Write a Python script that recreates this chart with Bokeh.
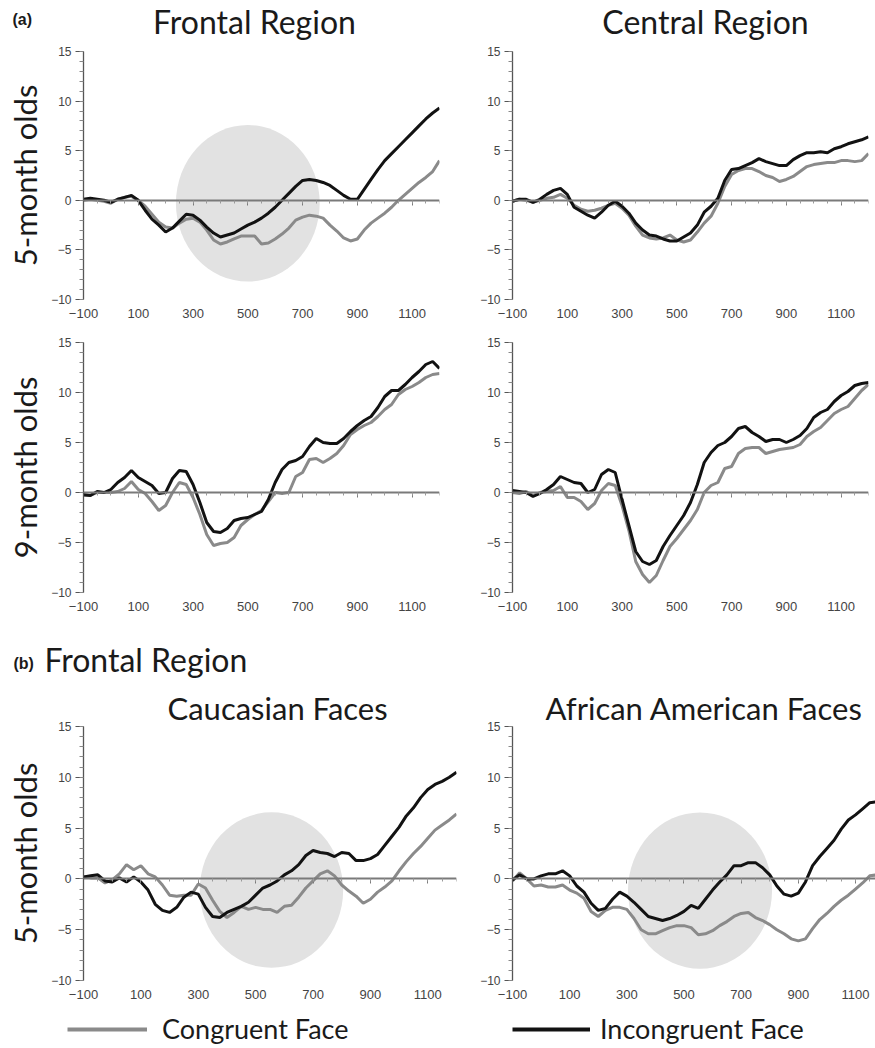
from bokeh.plotting import figure
from bokeh.layouts import row, column
from bokeh.models import Range1d, FixedTicker, LinearAxis, Label, Legend, LegendItem
from bokeh.embed import file_html
from bokeh.resources import INLINE

# ---- data (ms, microvolts) ----
times = list(range(-100, 1201, 25))

frontal5_incongruent = [0.1, 0.2, 0.1, 0.0, -0.2, 0.1, 0.3, 0.5, 0.0, -1.0,
                        -1.9, -2.5, -3.2, -2.8, -2.1, -1.4, -1.5, -2.0, -2.7, -3.3,
                        -3.7, -3.5, -3.3, -2.9, -2.5, -2.2, -1.8, -1.3, -0.7, 0.0,
                        0.7, 1.4, 2.0, 2.1, 2.0, 1.8, 1.5, 1.0, 0.5, 0.1,
                        0.1, 1.1, 2.1, 3.1, 4.0, 4.7, 5.4, 6.1, 6.8, 7.5,
                        8.2, 8.8, 9.3]
frontal5_congruent = [0.0, 0.1, 0.0, -0.1, -0.3, 0.1, 0.3, 0.4, 0.0, -0.6,
                      -1.4, -2.2, -2.7, -2.8, -2.3, -1.9, -1.8, -2.2, -3.0, -4.0,
                      -4.4, -4.2, -3.9, -3.6, -3.6, -3.6, -4.4, -4.3, -3.9, -3.4,
                      -2.8, -2.0, -1.7, -1.5, -1.6, -1.8, -2.5, -3.1, -3.8, -4.1,
                      -3.9, -3.0, -2.3, -1.8, -1.3, -0.7, 0.0, 0.6, 1.2, 1.8,
                      2.3, 2.9, 4.0]
central5_incongruent = [-0.1, 0.1, 0.1, -0.2, 0.1, 0.6, 1.0, 1.2, 0.6, -0.7,
                        -1.1, -1.5, -1.8, -1.2, -0.5, -0.1, -0.6, -1.3, -2.3, -3.0,
                        -3.5, -3.6, -3.9, -4.1, -4.1, -3.7, -3.3, -2.5, -1.2, -0.6,
                        0.2, 2.0, 3.1, 3.2, 3.5, 3.8, 4.2, 3.9, 3.7, 3.5,
                        3.5, 4.1, 4.5, 4.8, 4.8, 4.9, 4.8, 5.2, 5.4, 5.7,
                        5.9, 6.1, 6.4]
central5_congruent = [-0.1, 0.1, 0.0, -0.2, 0.0, 0.2, 0.3, 0.6, 0.2, -0.5,
                      -0.9, -1.1, -1.0, -0.8, -0.5, -0.3, -0.8, -1.5, -2.6, -3.5,
                      -3.8, -3.9, -3.8, -3.5, -4.0, -4.2, -4.0, -3.2, -2.3, -1.6,
                      -0.3, 1.4, 2.6, 3.0, 3.2, 3.2, 2.9, 2.5, 2.3, 1.9,
                      2.1, 2.4, 2.9, 3.4, 3.6, 3.7, 3.8, 3.8, 4.0, 4.0,
                      3.9, 4.0, 4.7]
frontal9_incongruent = [-0.2, -0.3, 0.1, 0.0, 0.3, 1.0, 1.5, 2.2, 1.5, 1.1,
                        0.7, -0.1, 0.0, 1.4, 2.2, 2.1, 0.8, -1.0, -3.0, -3.9,
                        -4.0, -3.6, -2.8, -2.6, -2.5, -2.2, -1.9, -0.7, 1.0, 2.3,
                        3.0, 3.2, 3.6, 4.6, 5.4, 5.0, 4.9, 4.9, 5.4, 6.1,
                        6.7, 7.2, 7.6, 8.5, 9.6, 10.2, 10.2, 10.8, 11.5, 12.1,
                        12.8, 13.1, 12.4]
frontal9_congruent = [-0.3, -0.3, 0.0, 0.0, 0.0, 0.1, 0.4, 1.1, 0.3, -0.1,
                      -0.9, -1.8, -1.3, 0.0, 1.0, 0.8, -0.5, -2.2, -4.2, -5.3,
                      -5.1, -5.0, -4.5, -3.3, -2.7, -2.2, -1.8, -0.9, 0.0, -0.1,
                      0.0, 1.6, 2.0, 3.3, 3.4, 3.0, 3.4, 3.9, 4.7, 5.8,
                      6.3, 6.7, 7.0, 7.6, 8.3, 8.8, 9.8, 10.3, 10.6, 11.0,
                      11.5, 11.8, 11.9]
central9_incongruent = [0.2, 0.1, 0.0, -0.4, -0.1, 0.3, 0.8, 1.6, 1.3, 1.0,
                        0.9, 0.0, 0.3, 1.8, 2.3, 2.0, -0.7, -3.3, -5.9, -6.9,
                        -7.2, -6.8, -5.4, -4.3, -3.3, -2.3, -1.0, 0.8, 3.0, 4.0,
                        4.7, 5.0, 5.6, 6.4, 6.6, 6.0, 5.6, 5.1, 5.3, 5.3,
                        5.0, 5.3, 5.7, 6.4, 7.5, 8.0, 8.3, 9.1, 9.7, 10.1,
                        10.7, 10.9, 11.0]
central9_congruent = [0.0, -0.1, 0.1, -0.3, 0.0, 0.1, 0.2, 0.6, -0.5, -0.5,
                      -0.9, -1.7, -1.1, 0.2, 0.9, 0.7, -1.3, -3.8, -6.9, -8.2,
                      -9.0, -8.3, -6.8, -5.4, -4.6, -3.7, -2.8, -1.7, 0.0, 0.7,
                      1.0, 2.4, 2.6, 3.9, 4.4, 4.5, 4.5, 3.9, 4.1, 4.3,
                      4.4, 4.5, 4.8, 5.6, 6.1, 6.5, 7.2, 7.9, 8.3, 8.6,
                      9.4, 10.2, 10.8]
caucasian5_incongruent = [0.2, 0.3, 0.4, -0.2, -0.3, 0.1, -0.3, 0.2, -0.3, -1.1,
                          -2.5, -3.1, -3.3, -2.8, -1.8, -1.3, -1.5, -2.8, -3.7, -3.8,
                          -3.3, -3.0, -2.7, -2.3, -1.6, -0.9, -0.6, -0.2, 0.4, 0.8,
                          1.4, 2.3, 2.8, 2.6, 2.5, 2.2, 2.6, 2.5, 1.8, 1.8,
                          2.0, 2.4, 3.3, 4.2, 5.1, 6.2, 7.0, 8.0, 8.8, 9.3,
                          9.6, 10.0, 10.5]
caucasian5_congruent = [0.2, 0.1, 0.1, -0.4, -0.1, 0.5, 1.4, 0.9, 1.3, 0.5,
                        0.2, -0.6, -1.6, -1.7, -1.6, -1.6, -0.5, -0.9, -2.1, -3.2,
                        -3.8, -3.3, -2.7, -3.0, -2.8, -3.0, -3.0, -3.3, -2.7, -2.6,
                        -1.8, -0.9, -0.2, 0.5, 0.8, 0.3, -0.6, -1.2, -1.7, -2.4,
                        -2.0, -1.3, -0.8, -0.2, 0.8, 1.7, 2.5, 3.2, 4.0, 4.8,
                        5.3, 5.8, 6.4]
african5_incongruent = [-0.1, 0.4, 0.0, 0.0, 0.3, 0.5, 0.5, 0.8, 0.3, -0.7,
                        -1.3, -2.4, -3.1, -2.9, -2.0, -1.3, -1.7, -2.3, -3.0, -3.7,
                        -3.9, -4.1, -3.9, -3.6, -3.2, -2.6, -2.9, -2.0, -1.1, -0.3,
                        0.4, 1.3, 1.3, 1.6, 1.6, 1.1, 0.4, -0.7, -1.5, -1.7,
                        -1.4, -0.3, 1.3, 2.2, 3.0, 3.8, 4.9, 5.8, 6.3, 6.9,
                        7.5, 7.6, 7.7]
african5_congruent = [-0.2, 0.6, 0.0, -0.7, -0.6, -0.8, -0.8, -0.6, -1.1, -1.4,
                      -1.9, -3.2, -3.7, -3.1, -2.8, -2.8, -3.0, -3.9, -5.0, -5.4,
                      -5.4, -5.1, -4.8, -4.6, -4.6, -4.8, -5.5, -5.4, -5.1, -4.6,
                      -4.2, -3.7, -3.4, -3.3, -3.8, -4.1, -4.5, -5.0, -5.4, -5.9,
                      -6.1, -5.9, -4.9, -4.0, -3.4, -2.7, -2.1, -1.6, -1.0, -0.4,
                      0.3, 0.4, 0.4]

x_tick_values = [-100, 100, 300, 500, 700, 900, 1100]
y_tick_values = [-10, -5, 0, 5, 10, 15]
# highlighted time windows: (center ms, center uV, width ms, height uV)
frontal5_window = [500, -0.3, 525, 15.8]
caucasian_window = [555, -1.1, 500, 15.3]
african_window = [556, -1.15, 504, 15.4]

GRAY = "#8a8a8a"
BLACK = "#121212"
TEXT = "#1a1a1a"
TFONT = "Lato"
NFONT = "Liberation Sans"


def lab(v):
    return str(v).replace("-", "\u2212")


def panel(cong, incong, x_end, width, height, mb, ylabel=None, window=None,
          title=None, title_offset=0):
    p = figure(width=width, height=height, x_range=Range1d(-100, x_end),
               y_range=Range1d(-10, 15), output_backend="svg", toolbar_location=None,
               min_border_left=mb[0], min_border_right=mb[1],
               min_border_top=mb[2], min_border_bottom=mb[3])
    p.outline_line_color = None
    p.grid.visible = False
    if title:
        p.title.text = title
        p.title.text_font = TFONT
        p.title.text_font_size = "31px"
        p.title.text_font_style = "normal"
        p.title.text_color = TEXT
        p.title.align = "left"
        p.title.offset = title_offset
        p.title.standoff = 0
    if window is not None:
        p.ellipse(x=[window[0]], y=[window[1]], width=window[2], height=window[3],
                  fill_color="#e2e2e2", line_color=None)
    p.line(times, cong, line_color=GRAY, line_width=3)
    p.line(times, incong, line_color=BLACK, line_width=3)

    ya = p.yaxis[0]
    ya.ticker = FixedTicker(ticks=y_tick_values, minor_ticks=list(range(-10, 16)))
    ya.major_label_overrides = {v: lab(v) for v in y_tick_values}
    ya.axis_line_color = "#555555"
    ya.axis_line_width = 1.3
    ya.major_tick_line_color = "#555555"
    ya.minor_tick_line_color = "#888888"
    ya.major_tick_out = 8
    ya.major_tick_in = 0
    ya.minor_tick_out = 4
    ya.minor_tick_in = 0
    ya.major_label_standoff = 4
    ya.major_label_text_font = NFONT
    ya.major_label_text_font_size = "12px"
    ya.major_label_text_color = "#444444"
    if ylabel:
        ya.axis_label = ylabel
        ya.axis_label_text_font = TFONT
        ya.axis_label_text_font_size = "31px"
        ya.axis_label_text_font_style = "normal"
        ya.axis_label_text_color = TEXT
        ya.axis_label_standoff = 4

    xa = p.xaxis[0]
    xa.ticker = FixedTicker(ticks=x_tick_values)
    xa.major_label_overrides = {v: lab(v) for v in x_tick_values}
    xa.axis_line_color = None
    xa.major_tick_line_color = None
    xa.minor_tick_line_color = None
    xa.major_tick_out = 0
    xa.major_tick_in = 0
    xa.major_label_standoff = 9
    xa.major_label_text_font = NFONT
    xa.major_label_text_font_size = "13px"
    xa.major_label_text_color = "#444444"

    zero = LinearAxis(fixed_location=0,
                      ticker=FixedTicker(ticks=x_tick_values, minor_ticks=list(range(-100, 1201, 50))),
                      major_label_overrides={v: "" for v in x_tick_values},
                      axis_line_color="#7a7a7a", axis_line_width=2,
                      major_tick_line_color="#7a7a7a", major_tick_out=5, major_tick_in=0,
                      minor_tick_line_color="#9a9a9a", minor_tick_out=3, minor_tick_in=0)
    p.add_layout(zero, "below")
    return p


def strip(height):
    s = figure(width=875, height=height, x_range=Range1d(0, 875), y_range=Range1d(0, height),
               output_backend="svg", toolbar_location=None, min_border=0,
               x_axis_location=None, y_axis_location=None)
    s.outline_line_color = None
    s.grid.visible = False
    return s


def text(p, t, x, y, size, align="left", bold=False, font=TFONT):
    p.add_layout(Label(x=x, y=y, x_units="screen", y_units="screen", text=t,
                       text_font=font, text_font_size=size, text_align=align,
                       text_baseline="alphabetic", text_color=TEXT,
                       text_font_style="bold" if bold else "normal"))


# header (a)
head1 = strip(44)
text(head1, "(a)", 12, 25, "16px", bold=True, font=NFONT)
text(head1, "Frontal Region", 254, 23, "32px", align="center")
text(head1, "Central Region", 705, 23, "32px", align="center")

# rows (a)
f1 = panel(frontal5_congruent, frontal5_incongruent, 1200, 470, 281, (83, 31, 7, 26),
           ylabel="5-month olds", window=frontal5_window)
f2 = panel(central5_congruent, central5_incongruent, 1200, 405, 281, (42, 7, 7, 26))
f3 = panel(frontal9_congruent, frontal9_incongruent, 1200, 470, 293, (83, 31, 13, 26),
           ylabel="9-month olds")
f4 = panel(central9_congruent, central9_incongruent, 1200, 405, 293, (42, 7, 17, 26))

# header (b)
head2 = strip(62)
text(head2, "(b)", 13, 17, "16px", bold=True, font=NFONT)
text(head2, "Frontal Region", 44, 21, "32px")

f5 = panel(caucasian5_congruent, caucasian5_incongruent, 1200, 470, 326, (83, 14, 42, 26),
           ylabel="5-month olds", window=caucasian_window,
           title="Caucasian Faces", title_offset=84)
f6 = panel(african5_congruent, african5_incongruent, 1170, 405, 326, (42, 0, 46, 26),
           window=african_window, title="African American Faces", title_offset=33)

# legend strip (single off-frame points: only the legend samples are visible)
foot = strip(42)
lg = foot.line(x=[-50], y=[-50], line_color=GRAY, line_width=4)
lb = foot.line(x=[-50], y=[-50], line_color=BLACK, line_width=4)
for rend, name, x0, gw, so in [(lg, "Congruent Face", 67, 80, 15), (lb, "Incongruent Face", 512, 78, 10)]:
    foot.add_layout(Legend(items=[LegendItem(label=name, renderers=[rend])],
                           location=(x0, 3), orientation="horizontal",
                           glyph_width=gw, glyph_height=30, label_height=30,
                           label_standoff=so, label_text_font=TFONT,
                           label_text_font_size="27px", label_text_color=TEXT,
                           border_line_color=None, background_fill_alpha=0,
                           padding=0, margin=0, spacing=0))

p = column(head1, row(f1, f2), row(f3, f4), head2, row(f5, f6), foot)

open("out.html", "w").write(file_html(p, INLINE))
